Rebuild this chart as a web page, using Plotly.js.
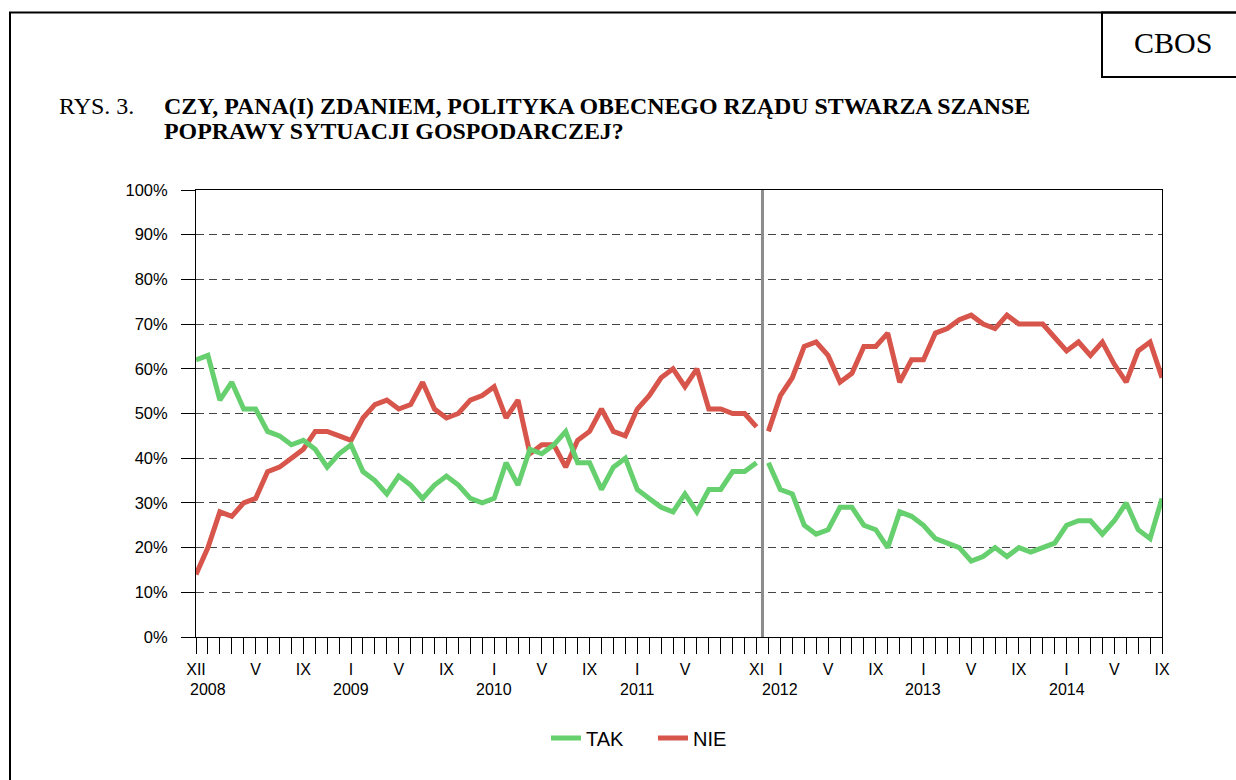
<!DOCTYPE html>
<html>
<head>
<meta charset="utf-8">
<script src="https://cdn.plot.ly/plotly-3.0.1.min.js"></script>
<style>
  html, body { margin: 0; padding: 0; background: #fff; }
  #chart { width: 1236px; height: 780px; }
</style>
</head>
<body>
<div id="chart"></div>
<script>
// ---- Data (XII 2007 .. IX 2014, monthly) ----
// First government term: XII 2007 .. XI 2011
const takTerm1 = [62, 63, 53, 57, 51, 51, 46, 45, 43, 44, 42, 38, 41, 43, 37, 35, 32, 36, 34, 31, 34, 36, 34, 31,
                  30, 31, 39, 34, 42, 41, 43, 46, 39, 39, 33, 38, 40, 33, 31, 29, 28, 32, 28, 33, 33, 37, 37, 39];
const nieTerm1 = [14, 20, 28, 27, 30, 31, 37, 38, 40, 42, 46, 46, 45, 44, 49, 52, 53, 51, 52, 57, 51, 49, 50, 53,
                  54, 56, 49, 53, 41, 43, 43, 38, 44, 46, 51, 46, 45, 51, 54, 58, 60, 56, 60, 51, 51, 50, 50, 47];
// Second government term: XII 2011 .. IX 2014
const takTerm2 = [39, 33, 32, 25, 23, 24, 29, 29, 25, 24, 20, 28, 27, 25, 22, 21, 20, 17, 18, 20,
                  18, 20, 19, 20, 21, 25, 26, 26, 23, 26, 30, 24, 22, 31];
const nieTerm2 = [46, 54, 58, 65, 66, 63, 57, 59, 65, 65, 68, 57, 62, 62, 68, 69, 71, 72, 70, 69,
                  72, 70, 70, 70, 67, 64, 66, 63, 66, 61, 57, 64, 66, 58];

// Axis labels
const monthLabelIndex = [0, 5, 9, 13, 17, 21, 25, 29, 33, 37, 41, 47, 49, 53, 57, 61, 65, 69, 73, 77, 81];
const monthLabelText  = ["XII", "V", "IX", "I", "V", "IX", "I", "V", "IX", "I", "V", "XI", "I", "V", "IX", "I", "V", "IX", "I", "V", "IX"];
const yearLabelIndex  = [1, 13, 25, 37, 49, 61, 73];
const yearLabelText   = ["2008", "2009", "2010", "2011", "2012", "2013", "2014"];
const seriesNames = ["TAK", "NIE"];

// ---- Derived ----
const nMonths = takTerm1.length + takTerm2.length;
const x1 = takTerm1.map((_, i) => i);
const x2 = takTerm2.map((_, i) => i + takTerm1.length);
const allTicks = Array.from({length: nMonths}, (_, i) => i);
const allTickText = allTicks.map(i => {
  const k = monthLabelIndex.indexOf(i);
  return k >= 0 ? monthLabelText[k] : "";
});
const breakX = takTerm1.length - 0.5;

const GREEN = "#66cf6e";
const RED = "#d8554b";
const LW = 5;

const traces = [
  {x: x1, y: nieTerm1, type: "scatter", mode: "lines", name: seriesNames[1], legendgroup: "nie",
   line: {color: RED, width: LW}},
  {x: x2, y: nieTerm2, type: "scatter", mode: "lines", name: seriesNames[1], legendgroup: "nie", showlegend: false,
   line: {color: RED, width: LW}},
  {x: x1, y: takTerm1, type: "scatter", mode: "lines", name: seriesNames[0], legendgroup: "tak",
   line: {color: GREEN, width: LW}},
  {x: x2, y: takTerm2, type: "scatter", mode: "lines", name: seriesNames[0], legendgroup: "tak", showlegend: false,
   line: {color: GREEN, width: LW}}
];

// pixel helpers for paper coordinates (plot area 196..1162 x 190..637)
const L = 196, R = 1162, T = 190, B = 637;
const px = v => (v - L) / (R - L);
const py = v => (B - v) / (B - T);

const serif = "Liberation Serif, Times New Roman, serif";
const sans = "Arial, Liberation Sans, sans-serif";

const annotations = [
  {xref: "paper", yref: "paper", x: px(57), y: py(106), xanchor: "left", yanchor: "middle", showarrow: false,
   text: "RYS. 3.", font: {family: serif, size: 24, color: "#000"}},
  {xref: "paper", yref: "paper", x: px(162), y: py(106), xanchor: "left", yanchor: "middle", showarrow: false,
   text: "<b>CZY, PANA(I) ZDANIEM, POLITYKA OBECNEGO RZĄDU STWARZA SZANSE</b>", font: {family: serif, size: 23.9, color: "#000"}},
  {xref: "paper", yref: "paper", x: px(162), y: py(131), xanchor: "left", yanchor: "middle", showarrow: false,
   text: "<b>POPRAWY SYTUACJI GOSPODARCZEJ?</b>", font: {family: serif, size: 23.9, color: "#000"}},
  {xref: "paper", yref: "paper", x: px(1173), y: py(43), xanchor: "center", yanchor: "middle", showarrow: false,
   text: "CBOS", font: {family: serif, size: 30, color: "#000"}}
].concat(yearLabelIndex.map((xi, k) => ({
  xref: "x", yref: "paper", x: xi, y: py(689), xanchor: "center", yanchor: "middle", showarrow: false,
  text: yearLabelText[k], font: {family: sans, size: 16, color: "#000"}
})));

const shapes = [
  {type: "rect", xref: "paper", yref: "paper", x0: px(10), x1: px(1245), y0: py(790), y1: py(12.5),
   line: {color: "#000", width: 2}, fillcolor: "rgba(0,0,0,0)", layer: "below"},
  {type: "rect", xref: "paper", yref: "paper", x0: px(1102), x1: px(1245), y0: py(77), y1: py(12.5),
   line: {color: "#000", width: 2}, fillcolor: "rgba(0,0,0,0)", layer: "below"},
  {type: "line", xref: "x", yref: "y", x0: breakX, x1: breakX, y0: 0, y1: 100,
   line: {color: "#8c8c8c", width: 3}}
];

const layout = {
  width: 1236, height: 780, autosize: false,
  margin: {l: L, r: 1236 - R, t: T, b: 780 - B, pad: 0},
  paper_bgcolor: "#fff", plot_bgcolor: "#fff",
  font: {family: sans, size: 16, color: "#000"},
  showlegend: true,
  legend: {orientation: "h", traceorder: "reversed", x: px(546), xanchor: "left", y: py(738), yanchor: "middle",
           font: {family: sans, size: 20, color: "#000"}, entrywidth: 62, entrywidthmode: "pixels",
           bgcolor: "rgba(0,0,0,0)"},
  xaxis: {range: [0, nMonths - 1], tickmode: "array", tickvals: allTicks, ticktext: allTickText,
          ticks: "outside", ticklen: 16, tickwidth: 1, tickcolor: "#000", ticklabelstandoff: 2,
          showgrid: false, zeroline: false, showline: true, linecolor: "#000", linewidth: 1, mirror: true,
          tickfont: {family: sans, size: 16, color: "#000"}, tickangle: 0, fixedrange: true},
  yaxis: {range: [0, 100], tickmode: "linear", tick0: 0, dtick: 10, ticksuffix: "%",
          ticks: "outside", ticklen: 14, tickwidth: 1, tickcolor: "#000", ticklabelstandoff: 10,
          showgrid: true, gridcolor: "#444", gridwidth: 1, griddash: "8px,5px",
          zeroline: false, showline: true, linecolor: "#000", linewidth: 1, mirror: true,
          tickfont: {family: sans, size: 16.5, color: "#000"}, fixedrange: true},
  annotations: annotations,
  shapes: shapes
};

Plotly.newPlot("chart", traces, layout, {displayModeBar: false, staticPlot: true});
</script>
</body>
</html>
